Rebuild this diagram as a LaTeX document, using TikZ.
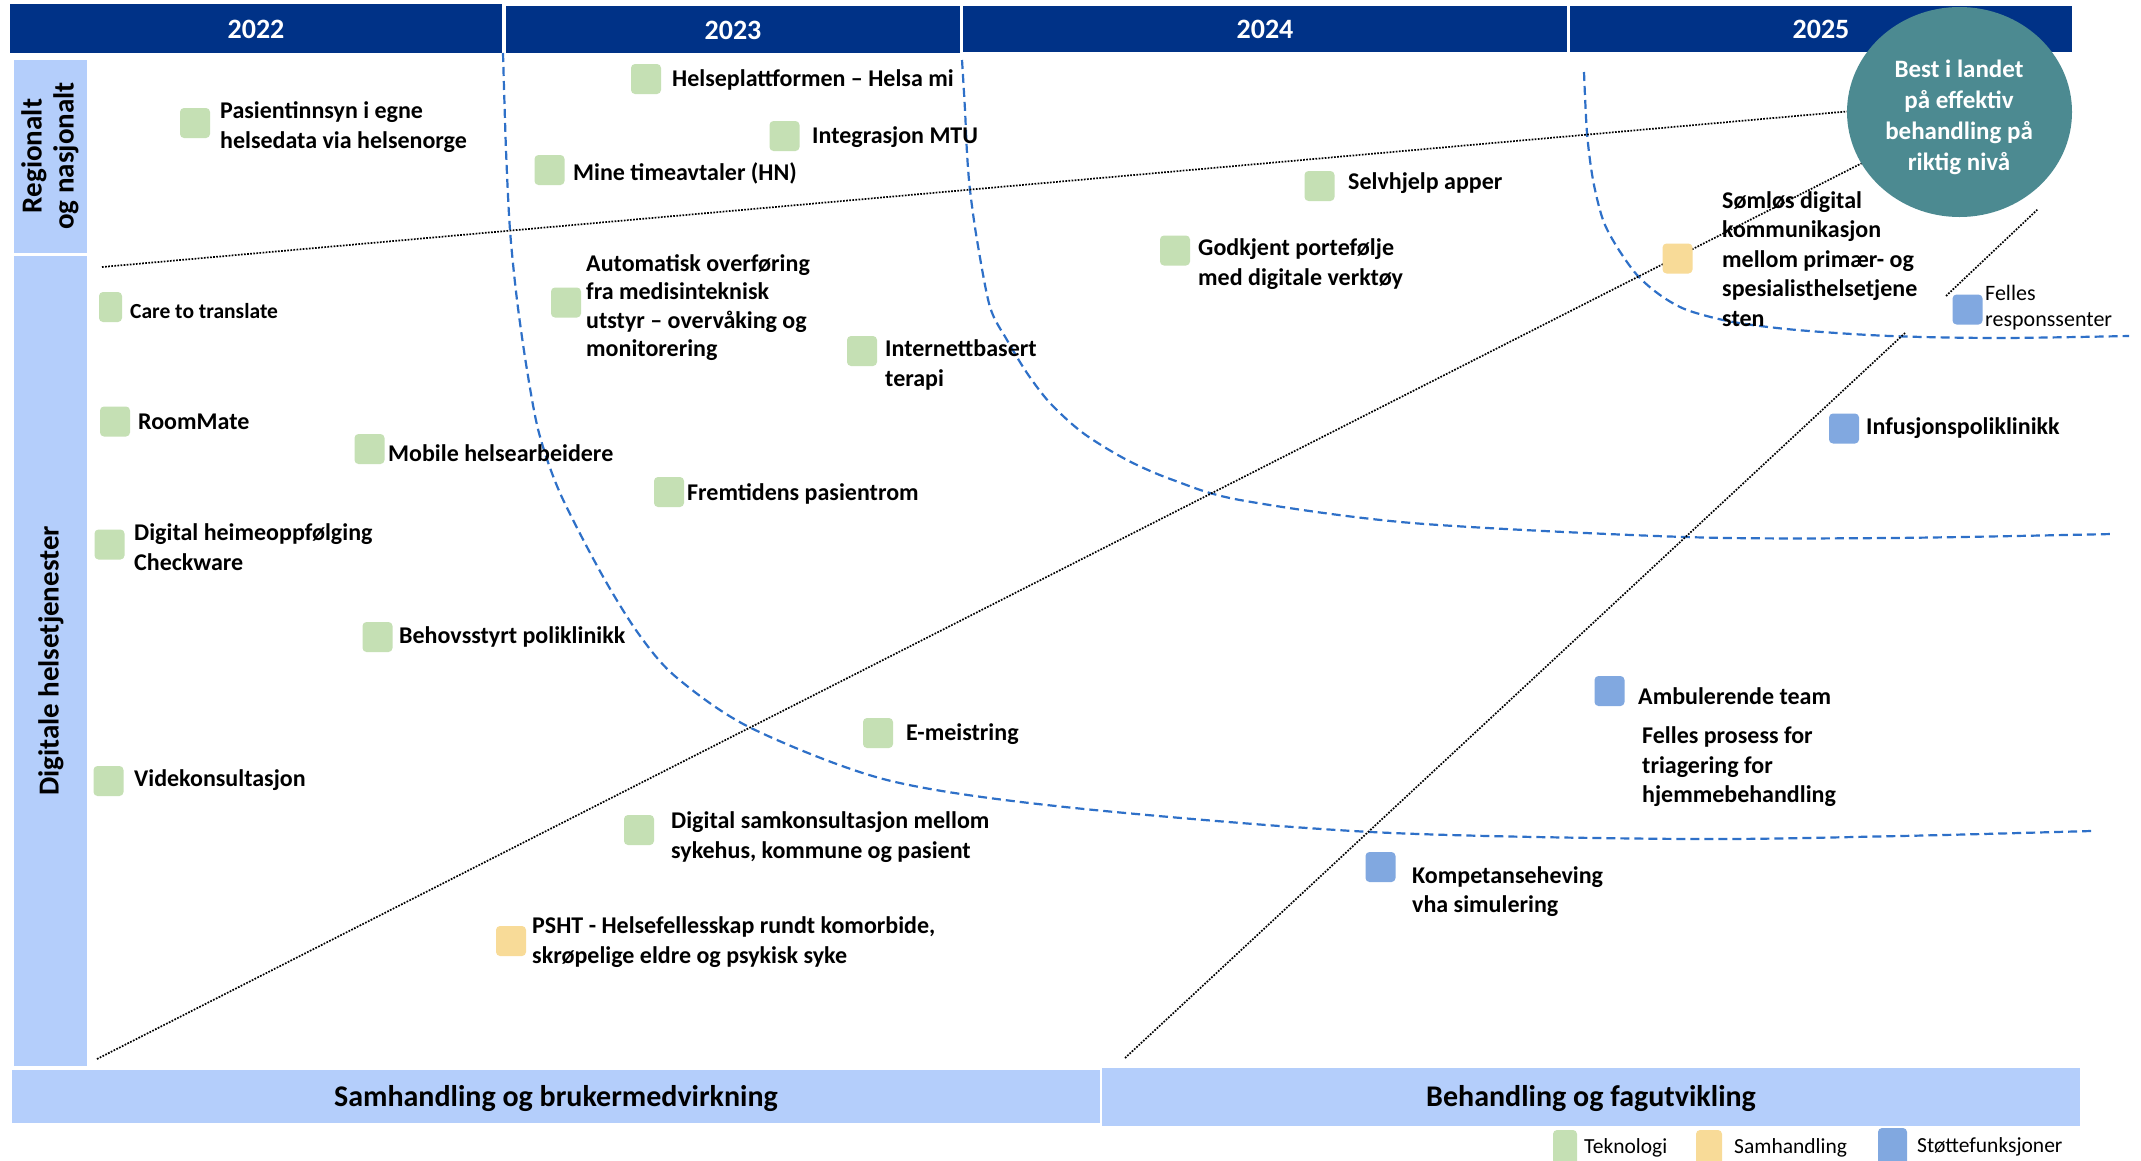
\documentclass[tikz,border=0pt]{standalone}
\usepackage{fontspec}
\usetikzlibrary{shapes.geometric}
\setmainfont{Carlito}
\definecolor{hdrblue}{RGB}{0,50,135}
\definecolor{barblue}{RGB}{180,206,251}
\definecolor{sqgreen}{RGB}{197,224,180}
\definecolor{sqyellow}{RGB}{248,219,152}
\definecolor{sqblue}{RGB}{129,168,224}
\definecolor{tealc}{RGB}{76,138,145}
\definecolor{dashc}{RGB}{46,112,200}
\begin{document}
\begin{tikzpicture}[x=1pt,y=-1pt,
  sq/.style={minimum width=30pt,minimum height=30pt,inner sep=0pt,rounded corners=4pt,draw=none},
  sqg/.style={sq,fill=sqgreen},
  sqy/.style={sq,fill=sqyellow},
  sqb/.style={sq,fill=sqblue},
  item/.style={anchor=west,align=left,inner sep=0pt,font=\fontsize{24}{29.5}\selectfont\bfseries},
  itemreg/.style={anchor=west,align=left,inner sep=0pt,font=\fontsize{22}{26}\selectfont},
  year/.style={text=white,font=\fontsize{28}{30}\selectfont\bfseries},
  hdr/.style={fill=hdrblue,draw=none},
  bar/.style={fill=barblue,draw=none},
  dotl/.style={black,line width=1.7pt,dash pattern=on 1.7pt off 1.4pt},
  dashcurve/.style={dashc,line width=2.2pt,dash pattern=on 9pt off 5pt},
  sidelbl/.style={rotate=90,align=center,inner sep=0pt,font=\fontsize{29}{32}\selectfont\bfseries},
  barlbl/.style={font=\fontsize{30}{32}\selectfont\bfseries},
  leg/.style={anchor=west,inner sep=0pt,font=\fontsize{21.5}{24}\selectfont}
]
\useasboundingbox (0,0) rectangle (2141,1160);
\clip (0,0) rectangle (2141,1160);
\fill[white] (0,0) rectangle (2141,1160);

% header
\fill[hdr] (10,4) rectangle (502,53);
\fill[hdr] (506,6) rectangle (960,53);
\fill[hdr] (963,6) rectangle (1567,52);
\fill[hdr] (1570,6) rectangle (2072,52);
\node[year] (y22) at (256,29) {2022};
\node[year] (y23) at (733,30) {2023};
\node[year] (y24) at (1265,29) {2024};
\node[year] (y25) at (1821,29) {2025};

% side bars
\fill[bar] (14,60) rectangle (87,253);
\fill[bar] (14,256) rectangle (87,1066);
\node[sidelbl] (lreg) at (50,156) {Regionalt\\og nasjonalt};
\node[sidelbl] (ldig) at (51,661) {Digitale helsetjenester};

% bottom bars
\fill[bar] (12,1070) rectangle (1100,1123);
\fill[bar] (1102,1068) rectangle (2080,1126);
\node[barlbl] (lsam) at (556,1098) {Samhandling og brukermedvirkning};
\node[barlbl] (lbeh) at (1591,1098) {Behandling og fagutvikling};

% dashed curves
\draw[dashcurve] plot[smooth,tension=0.5] coordinates {(503,53) (506,150) (510,230) (517,300) (527,370) (539,433) (560,493) (601,573) (638,633) (676,677) (751,728) (887,780) (1065,807) (1371,832) (1685,839) (1900,836) (2091,831)};
\draw[dashcurve] plot[smooth,tension=0.5] coordinates {(962,60) (965,110) (967,153) (970,190) (977,240) (990,307) (1007,340) (1027,373) (1050,403) (1083,433) (1127,460) (1173,480) (1240,500) (1412,523) (1685,537) (1890,538) (2112,534)};
\draw[dashcurve] plot[smooth,tension=0.5] coordinates {(1584,72) (1587,133) (1593,180) (1603,220) (1617,247) (1637,275) (1660,295) (1687,310) (1733,322) (1797,330) (1890,336) (2000,338) (2129,336)};

% dotted lines
\coordinate (d1a) at (102,267);
\coordinate (d1b) at (1852,111);
\coordinate (d2a) at (97,1059);
\coordinate (d2b) at (1872,158);
\coordinate (d3a) at (1125,1058);
\coordinate (d3b) at (1905,333);
\coordinate (d3c) at (1946,296);
\coordinate (d3d) at (2038,209);
\draw[dotl] (d1a) -- (d1b);
\draw[dotl] (d2a) -- (d2b);
\draw[dotl] (d3a) -- (d3b);
\draw[dotl] (d3c) -- (d3d);

% goal ellipse
\node[ellipse,fill=tealc,minimum width=225pt,minimum height=210pt,inner sep=0pt] (goal) at (1959.5,112) {};
\node[text=white,align=center,inner sep=0pt,font=\fontsize{25}{31}\selectfont\bfseries] (goaltxt) at (1959,117) {Best i landet\\på effektiv\\behandling på\\riktig nivå};

% items
\node[sqg] (s1) at (646,79) {};
\node[item] (t1) at (672,80) {Helseplattformen – Helsa mi};
\node[sqg] (s2) at (195,123) {};
\node[item] (t2) at (220,127) {Pasientinnsyn i egne\\helsedata via helsenorge};
\node[sqg] (s3) at (784.5,136) {};
\node[item] (t3) at (812,137) {Integrasjon MTU};
\node[sqg] (s4) at (549.5,170) {};
\node[item] (t4) at (573,173) {Mine timeavtaler (HN)};
\node[sqg] (s5) at (1319.5,186) {};
\node[item] (t5) at (1348,183) {Selvhjelp apper};
\node[sqg] (s6) at (1175,250.5) {};
\node[item] (t6) at (1198,264) {Godkjent portefølje\\med digitale verktøy};
\node[sqy] (s7) at (1677.5,258.5) {};
\node[item] (t7) at (1722,259) {Sømløs digital\\kommunikasjon\\mellom primær- og\\spesialisthelsetjene\\sten};
\node[sqb] (s8) at (1967.5,309.5) {};
\node[itemreg] (t8) at (1985,308) {Felles\\responssenter};
\node[sqg] (s9) at (566,302.5) {};
\node[item,font=\fontsize{24}{28.5}\selectfont\bfseries] (t9) at (586,307.5) {Automatisk overføring\\fra medisinteknisk\\utstyr – overvåking og\\monitorering};
\node[sqg,minimum width=23pt] (s10) at (110.5,307) {};
\node[item,font=\fontsize{21.5}{26}\selectfont\bfseries] (t10) at (130,311) {Care to translate};
\node[sqg] (s11) at (862,351) {};
\node[item] (t11) at (885,365) {Internettbasert\\terapi};
\node[sqg] (s12) at (115,421.5) {};
\node[item] (t12) at (138,422) {RoomMate};
\node[sqg] (s13) at (369.5,449) {};
\node[item] (t13) at (388,453) {Mobile helsearbeidere};
\node[sqg] (s14) at (669,492) {};
\node[item] (t14) at (687,494) {Fremtidens pasientrom};
\node[sqg] (s15) at (109.5,544.5) {};
\node[item] (t15) at (134,547) {Digital heimeoppfølging\\Checkware};
\node[sqg] (s16) at (377.5,637) {};
\node[item] (t16) at (399,637) {Behovsstyrt poliklinikk};
\node[sqg] (s17) at (878,733) {};
\node[item] (t17) at (906,734) {E-meistring};
\node[sqg] (s18) at (108.5,781) {};
\node[item] (t18) at (134,780) {Videkonsultasjon};
\node[sqg] (s19) at (639,830) {};
\node[item] (t19) at (671,837) {Digital samkonsultasjon mellom\\sykehus, kommune og pasient};
\node[sqy] (s20) at (511,941) {};
\node[item] (t20) at (532,942) {PSHT - Helsefellesskap rundt komorbide,\\skrøpelige eldre og psykisk syke};
\node[sqb] (s21) at (1844,428.5) {};
\node[item] (t21) at (1866,428) {Infusjonspoliklinikk};
\node[sqb] (s22) at (1609.5,691) {};
\node[item] (t22) at (1638,696) {Ambulerende team};
\node[item] (t23) at (1642,767) {Felles prosess for\\triagering for\\hjemmebehandling};
\node[sqb] (s24) at (1380.5,867) {};
\node[item] (t24) at (1412,891.5) {Kompetanseheving\\vha simulering};

% legend
\node[sqg,minimum width=24pt,minimum height=40pt] (lg1) at (1565,1150) {};
\node[leg] (lt1) at (1584,1148) {Teknologi};
\node[sqy,minimum width=26pt,minimum height=40pt] (lg2) at (1709,1150) {};
\node[leg] (lt2) at (1734,1148) {Samhandling};
\node[sqb,minimum width=29pt,minimum height=40pt] (lg3) at (1892.5,1148) {};
\node[leg] (lt3) at (1917,1147) {Støttefunksjoner};
\end{tikzpicture}
\end{document}
